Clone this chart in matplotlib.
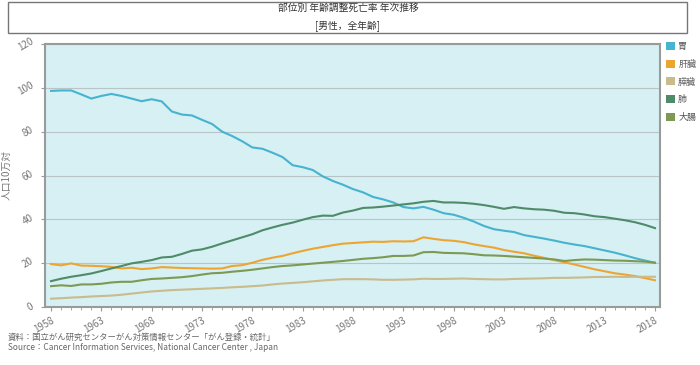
import numpy as np
import matplotlib
matplotlib.use('Agg')
import matplotlib.pyplot as plt
from matplotlib.patches import Rectangle, Patch

plt.rcParams['font.family'] = ['Noto Sans CJK JP', 'DejaVu Sans']

years = list(range(1958, 2019))

stomach = [98.6, 98.8, 98.8, 97.0, 95.1, 96.3, 97.2, 96.3, 95.1, 93.9,
           94.8, 93.8, 89.2, 87.8, 87.4, 85.4, 83.5, 80.0, 78.0, 75.6,
           72.8, 72.2, 70.4, 68.4, 64.7, 63.8, 62.5, 59.6, 57.5, 55.8,
           53.8, 52.3, 50.2, 49.1, 47.7, 45.6, 45.0, 45.7, 44.4, 42.8,
           42.1, 40.7, 39.0, 37.0, 35.5, 34.8, 34.2, 32.8, 32.0, 31.2,
           30.3, 29.3, 28.5, 27.8, 26.8, 25.8, 24.8, 23.6, 22.3, 21.2,
           20.2]
liver = [19.6, 19.0, 19.9, 18.9, 18.8, 18.6, 18.3, 17.6, 17.9, 17.3,
         17.6, 18.2, 18.0, 17.8, 17.7, 17.6, 17.5, 17.6, 18.7, 19.1,
         20.2, 21.5, 22.5, 23.3, 24.5, 25.6, 26.6, 27.4, 28.2, 28.9,
         29.2, 29.5, 29.8, 29.7, 30.0, 29.9, 30.0, 31.8, 31.1, 30.5,
         30.2, 29.6, 28.6, 27.8, 27.1, 26.0, 25.2, 24.5, 23.4, 22.4,
         21.4, 20.4, 19.4, 18.3, 17.2, 16.3, 15.4, 14.8, 14.1, 13.2,
         12.2]
pancreas = [3.8, 4.0, 4.3, 4.5, 4.8, 5.0, 5.2, 5.6, 6.1, 6.6,
            7.1, 7.4, 7.7, 7.9, 8.1, 8.3, 8.5, 8.7, 9.0, 9.2,
            9.5, 9.8, 10.3, 10.7, 11.0, 11.3, 11.7, 12.1, 12.4, 12.7,
            12.7, 12.7, 12.6, 12.4, 12.4, 12.5, 12.6, 12.9, 12.8, 12.8,
            12.9, 13.0, 12.8, 12.7, 12.6, 12.6, 12.8, 12.9, 13.0, 13.1,
            13.3, 13.3, 13.4, 13.5, 13.7, 13.7, 13.8, 13.7, 13.8, 13.8,
            13.8]
lung = [11.8, 12.9, 13.8, 14.5, 15.3, 16.4, 17.6, 18.7, 19.9, 20.6,
        21.4, 22.6, 22.9, 24.2, 25.7, 26.3, 27.5, 29.0, 30.4, 31.8,
        33.2, 35.0, 36.3, 37.5, 38.5, 39.8, 41.0, 41.7, 41.6, 43.1,
        44.0, 45.2, 45.4, 45.8, 46.3, 46.8, 47.3, 48.0, 48.4, 47.7,
        47.7, 47.5, 47.1, 46.5, 45.7, 44.8, 45.6, 45.0, 44.6, 44.4,
        43.9, 43.0, 42.8, 42.2, 41.4, 41.0, 40.3, 39.6, 38.7, 37.5,
        36.0]
colorectal = [9.5, 9.9, 9.6, 10.3, 10.3, 10.6, 11.2, 11.5, 11.5, 12.2,
              12.8, 13.0, 13.3, 13.6, 14.1, 14.8, 15.4, 15.6, 16.1, 16.5,
              17.0, 17.6, 18.2, 18.7, 19.0, 19.4, 19.8, 20.2, 20.6, 21.0,
              21.5, 22.0, 22.3, 22.7, 23.3, 23.3, 23.5, 25.0, 25.1, 24.7,
              24.6, 24.5, 24.1, 23.6, 23.5, 23.3, 23.0, 22.7, 22.4, 22.1,
              21.7, 21.0, 21.4, 21.7, 21.6, 21.4, 21.2, 21.1, 20.9, 20.7,
              20.2]

series_labels = ['胃', '肝臓', '膵臓', '肺', '大腸']
series_colors = ['#46b3cf', '#eda532', '#c9bb8c', '#4f8a69', '#7c9a52']
series_values = [stomach, liver, pancreas, lung, colorectal]

x_ticks = list(range(1958, 2019, 5))
y_ticks = [0, 20, 40, 60, 80, 100, 120]

fig = plt.figure(figsize=(7, 3.65), dpi=100)

# title box
fig.patches.append(Rectangle((8 / 700, 1 - 33 / 365), 679 / 700, 31 / 365,
                             transform=fig.transFigure, fill=False,
                             edgecolor='#777777', linewidth=1.0))
fig.text(0.497, 1 - 8 / 365, '部位別 年齢調整死亡率 年次推移', ha='center', va='center',
         fontsize=7, color='#333333')
fig.text(0.497, 1 - 26 / 365, '[男性，全年齢]', ha='center', va='center',
         fontsize=7, color='#333333')

ax = fig.add_axes([45 / 700, 1 - 307 / 365, 615 / 700, 263 / 365])
ax.set_facecolor('#d6f0f4')

for vals, col, lab in zip(series_values, series_colors, series_labels):
    ax.plot(years, vals, color=col, linewidth=1.5, label=lab)

ax.set_xlim(1957.4, 2018.5)
ax.set_ylim(0, 120)
ax.set_yticks(y_ticks)
ax.set_xticks(x_ticks)
ax.set_xticks(years, minor=True)
ax.grid(axis='y', color='#b8c4c6', linewidth=0.8)
ax.set_axisbelow(True)

for s in ax.spines.values():
    s.set_color('#9a9a9a')
    s.set_linewidth(1.5)

ax.tick_params(axis='y', length=3, color='#9a9a9a', labelsize=7, labelcolor='#777777', pad=4)
ax.tick_params(axis='x', which='major', length=3, color='#9a9a9a', labelsize=7, labelcolor='#777777', pad=3)
ax.tick_params(axis='x', which='minor', length=2, color='#9a9a9a')
for t in ax.get_yticklabels():
    t.set_rotation(30)
    t.set_ha('right')
    t.set_va('center')
for t in ax.get_xticklabels():
    t.set_rotation(30)
    t.set_ha('right')
    t.set_rotation_mode('anchor')

ax.set_ylabel('人口10万対', fontsize=7, color='#777777')
ax.yaxis.set_label_coords(-0.055, 0.5)

handles = [Patch(facecolor=c, edgecolor='none') for c in series_colors]
leg = fig.legend(handles, series_labels, loc='upper left',
                 bbox_to_anchor=(666 / 700, 1 - 42 / 365),
                 frameon=False, fontsize=6.5, handlelength=1.0, handleheight=1.0,
                 handletextpad=0.35, labelspacing=0.95, borderaxespad=0, borderpad=0)
for t in leg.get_texts():
    t.set_color('#555555')

fig.text(8 / 700, 1 - 337 / 365, '資料：国立がん研究センターがん対策情報センター「がん登録・統計」',
         fontsize=6, color='#666666', va='center')
fig.text(8 / 700, 1 - 347 / 365, 'Source：Cancer Information Services, National Cancer Center , Japan',
         fontsize=6, color='#666666', va='center')

fig.savefig('out.png', dpi=100)
